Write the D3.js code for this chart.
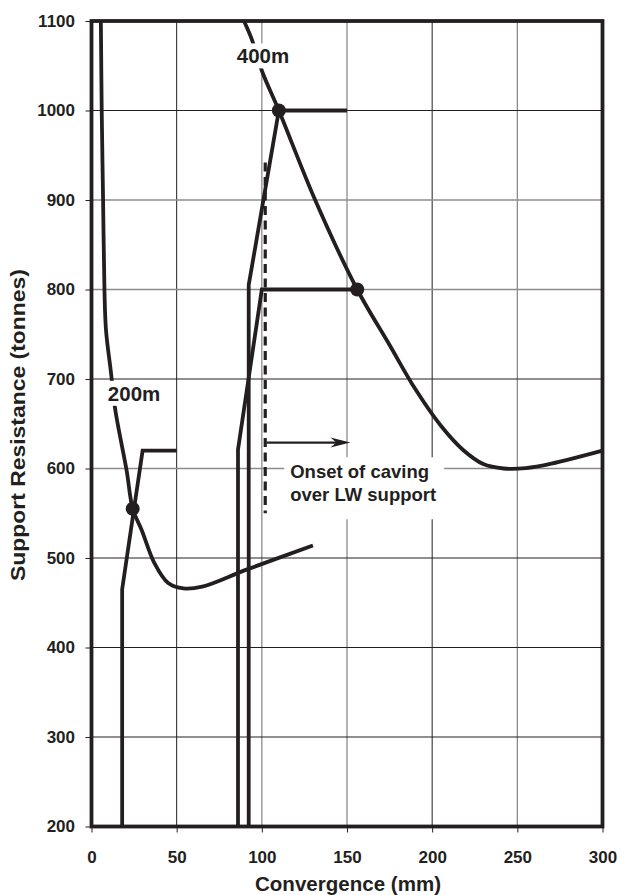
<!DOCTYPE html>
<html>
<head>
<meta charset="utf-8">
<script src="https://cdn.jsdelivr.net/npm/d3@7"></script>
<style>
  html, body { margin: 0; padding: 0; background: #fff; }
  svg { display: block; font-family: "Liberation Sans", Arial, sans-serif; }
</style>
</head>
<body>
<svg id="chart" width="620" height="895"></svg>
<script>
// ---------- data ----------
const xTicks = [0, 50, 100, 150, 200, 250, 300];
const yTicks = [200, 300, 400, 500, 600, 700, 800, 900, 1000, 1100];

// 200 m ground response curve [convergence, resistance]
const curve200 = [
  [5.5, 1100], [6, 1000], [6.8, 900], [7.6, 800], [8.5, 755], [11.5, 706],
  [14, 665], [20.6, 598], [24.2, 555], [29.5, 531], [37, 494], [45, 472],
  [54, 466], [65, 468], [91, 487], [130, 514]
];
// 400 m ground response curve
const curve400 = [
  [89.5, 1100], [94, 1080], [100.3, 1043], [110, 1000], [131.3, 900], [156, 800],
  [175, 738], [190, 689], [205, 648], [218, 621], [230, 605], [242, 600],
  [255, 600.5], [270, 605.5], [300, 620]
];
// support characteristics
const support200 = [[18, 200], [18, 465], [30, 620], [50, 620]];
const support400a = [[86, 200], [86, 621], [100, 800], [156, 800]];
const support400b = [[92.3, 200], [92.3, 805], [110, 1000], [150, 1000]];
// equilibrium points
const eqPoints = [[24.2, 555], [110, 1000], [156, 800]];
// onset of caving marker
const cavingX = 102;
const cavingRange = [550, 942];
const arrowFrom = [103, 629];
const arrowTo = [152, 629];

const labels = [
  { text: "200m", x: 25, y: 684 },
  { text: "400m", x: 100.7, y: 1061 }
];
const cavingText = ["Onset of caving", "over LW support"];

// ---------- layout ----------
const ink = "#231f20";
const margin = { left: 91.5, top: 21, right: 17.5, bottom: 68.5 };
const W = 620, H = 895;
const pw = W - margin.left - margin.right;
const ph = H - margin.top - margin.bottom;

const svg = d3.select("#chart");
const g = svg.append("g").attr("transform", `translate(${margin.left},${margin.top})`);

const x = d3.scaleLinear().domain([0, 300]).range([0, pw]);
const y = d3.scaleLinear().domain([200, 1100]).range([ph, 0]);

// grid
const grayX = new Set([100, 150, 250]);
const grayY = new Set([900, 800, 600]);
g.append("g").selectAll("line").data(xTicks.slice(1, -1)).join("line")
  .attr("x1", d => x(d)).attr("x2", d => x(d)).attr("y1", 0).attr("y2", ph)
  .attr("stroke", d => grayX.has(d) ? "#8c8c8c" : ink)
  .attr("stroke-width", d => grayX.has(d) ? 1.3 : 1);
g.append("g").selectAll("line").data(yTicks.slice(1, -1)).join("line")
  .attr("y1", d => y(d)).attr("y2", d => y(d)).attr("x1", 0).attr("x2", pw)
  .attr("stroke", d => grayY.has(d) ? "#8c8c8c" : ink)
  .attr("stroke-width", d => grayY.has(d) ? 1.3 : 1);

// axes
const fmt = d3.format("d");
const xAxis = d3.axisBottom(x).tickValues(xTicks).tickFormat(fmt).tickSize(6).tickPadding(18);
const yAxis = d3.axisLeft(y).tickValues(yTicks).tickFormat(fmt).tickSize(6).tickPadding(10.5);
const gx = g.append("g").attr("transform", `translate(0,${ph})`).call(xAxis);
const gy = g.append("g").call(yAxis);
[gx, gy].forEach(a => {
  a.select(".domain").remove();
  a.selectAll(".tick line").attr("stroke", ink).attr("stroke-width", 1);
  a.selectAll(".tick text").attr("fill", ink)
    .style("font-size", "17px").style("font-weight", "bold")
    .style("font-family", "'Liberation Sans', Arial, sans-serif");
});

// lines
const lineCurve = d3.line().x(d => x(d[0])).y(d => y(d[1])).curve(d3.curveCatmullRom.alpha(0.5));
const lineStraight = d3.line().x(d => x(d[0])).y(d => y(d[1]));

svg.append("defs").append("clipPath").attr("id", "plotclip")
  .append("rect").attr("x", 0).attr("y", 0).attr("width", pw).attr("height", ph);
const plot = g.append("g").attr("clip-path", "url(#plotclip)");

[support200, support400a, support400b].forEach(s => {
  plot.append("path").attr("d", lineStraight(s)).attr("fill", "none")
    .attr("stroke", ink).attr("stroke-width", 3.8).attr("stroke-linejoin", "miter");
});
[curve200, curve400].forEach(c => {
  plot.append("path").attr("d", lineCurve(c)).attr("fill", "none")
    .attr("stroke", ink).attr("stroke-width", 3.8);
});

// dashed caving line
plot.append("line")
  .attr("x1", x(cavingX)).attr("x2", x(cavingX))
  .attr("y1", y(cavingRange[1])).attr("y2", y(cavingRange[0]))
  .attr("stroke", ink).attr("stroke-width", 3.2).attr("stroke-dasharray", "9,5.5");

// arrow
const ax1 = x(arrowFrom[0]), ax2 = x(arrowTo[0]), ay = y(arrowFrom[1]);
plot.append("line").attr("x1", ax1).attr("x2", ax2 - 8).attr("y1", ay).attr("y2", ay)
  .attr("stroke", ink).attr("stroke-width", 2.2);
plot.append("path")
  .attr("d", `M${ax2},${ay} L${ax2 - 20},${ay - 5} L${ax2 - 14},${ay} L${ax2 - 20},${ay + 5} Z`)
  .attr("fill", ink);

// equilibrium dots
plot.selectAll("circle").data(eqPoints).join("circle")
  .attr("cx", d => x(d[0])).attr("cy", d => y(d[1])).attr("r", 7).attr("fill", ink);

// curve labels with white boxes
labels.forEach(l => {
  const t = g.append("text").attr("x", x(l.x)).attr("y", y(l.y))
    .attr("text-anchor", "middle").attr("dominant-baseline", "central")
    .attr("fill", ink).style("font-size", "20.5px").style("font-weight", "bold")
    .text(l.text);
  const bb = t.node().getBBox();
  g.insert("rect", () => t.node())
    .attr("x", bb.x - 10).attr("y", bb.y - 1).attr("width", bb.width + 20).attr("height", bb.height + 2)
    .attr("fill", "#fff");
});

// caving text
const ct = g.append("text").attr("fill", ink)
  .style("font-size", "18.5px").style("font-weight", "bold");
cavingText.forEach((s, i) => {
  ct.append("tspan").attr("x", x(cavingX) + 25).attr("y", y(cavingRange[0]) - 35 + i * 23).text(s);
});
{
  const bb = ct.node().getBBox();
  g.insert("rect", () => ct.node())
    .attr("x", bb.x - 6).attr("y", bb.y - 4).attr("width", bb.width + 14).attr("height", bb.height + 18)
    .attr("fill", "#fff");
}

// frame
g.append("rect").attr("x", 0).attr("y", 0).attr("width", pw).attr("height", ph)
  .attr("fill", "none").attr("stroke", ink).attr("stroke-width", 3.8);

// axis titles
svg.append("text").attr("x", 348).attr("y", 891)
  .attr("text-anchor", "middle").attr("fill", ink)
  .attr("textLength", 186).attr("lengthAdjust", "spacingAndGlyphs")
  .style("font-size", "20px").style("font-weight", "bold").text("Convergence (mm)");
svg.append("text").attr("transform", `translate(25,425) rotate(-90)`)
  .attr("text-anchor", "middle").attr("fill", ink)
  .attr("textLength", 312).attr("lengthAdjust", "spacingAndGlyphs")
  .style("font-size", "20px").style("font-weight", "bold").text("Support Resistance (tonnes)");
</script>
</body>
</html>
